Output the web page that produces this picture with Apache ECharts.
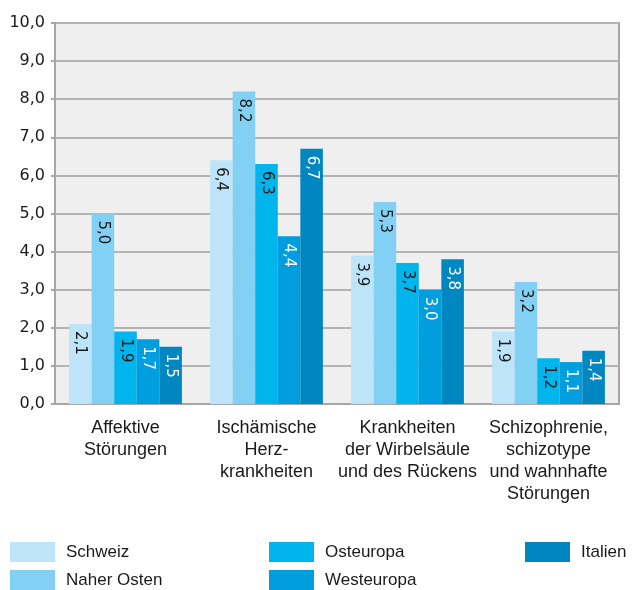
<!DOCTYPE html>
<html>
<head>
<meta charset="utf-8">
<script src="https://cdn.jsdelivr.net/npm/echarts@6/dist/echarts.min.js"></script>
<style>
  html, body { margin: 0; padding: 0; background: #ffffff; }
  #chart { width: 633px; height: 590px; }
</style>
</head>
<body>
<div id="chart"></div>
<script>
// Daten
var categories = [
  "Affektive\nStörungen",
  "Ischämische\nHerz-\nkrankheiten",
  "Krankheiten\nder Wirbelsäule\nund des Rückens",
  "Schizophrenie,\nschizotype\nund wahnhafte\nStörungen"
];
var seriesNames = ["Schweiz", "Naher Osten", "Osteuropa", "Westeuropa", "Italien"];
var schweiz = [2.1, 6.4, 3.9, 1.9];
var naherOsten = [5.0, 8.2, 5.3, 3.2];
var osteuropa = [1.9, 6.3, 3.7, 1.2];
var westeuropa = [1.7, 4.4, 3.0, 1.1];
var italien = [1.5, 6.7, 3.8, 1.4];
var yMin = 0, yMax = 10, yStep = 1;

var colors = ["#bde4f8", "#82d0f4", "#00b4ec", "#009edf", "#0086c0"];
var labelColors = ["#1a1a1a", "#1a1a1a", "#1a1a1a", "#ffffff", "#ffffff"];
var values = [schweiz, naherOsten, osteuropa, westeuropa, italien];

var textFont = "Liberation Sans";
var numFont = "DejaVu Sans";

function komma(v) {
  return Number(v).toFixed(1).replace(".", ",");
}

var series = [];
for (var i = 0; i < seriesNames.length; i++) {
  series.push({
    name: seriesNames[i],
    type: "bar",
    data: values[i],
    barGap: "0%",
    barCategoryGap: "20%",
    itemStyle: { color: colors[i] },
    label: {
      show: true,
      position: "insideTop",
      rotate: -90,
      align: "left",
      verticalAlign: "middle",
      distance: 7,
      color: labelColors[i],
      fontFamily: numFont,
      fontSize: 15,
      formatter: function (p) { return komma(p.value); }
    },
    emphasis: { disabled: true }
  });
}

function legendBlock(left, names) {
  return {
    orient: "vertical",
    left: left,
    top: 542,
    height: 48,
    padding: 0,
    itemWidth: 45,
    itemHeight: 20,
    itemGap: 8,
    icon: "rect",
    selectedMode: false,
    data: names,
    textStyle: {
      fontFamily: textFont,
      fontSize: 17,
      color: "#1a1a1a",
      padding: [0, 0, 0, 6]
    }
  };
}

var chart = echarts.init(document.getElementById("chart"), null, { renderer: "canvas" });
var option = {
  animation: false,
  color: colors,
  grid: {
    left: 55,
    right: 14,
    top: 23,
    bottom: 186,
    show: true,
    backgroundColor: "#efefef",
    borderColor: "#a6a6a6",
    borderWidth: 2
  },
  legend: [
    legendBlock(10, ["Schweiz", "Naher Osten"]),
    legendBlock(269, ["Osteuropa", "Westeuropa"]),
    legendBlock(525, ["Italien"])
  ],
  xAxis: {
    type: "category",
    data: categories,
    axisLine: { show: true, lineStyle: { color: "#a6a6a6", width: 2 } },
    axisTick: { show: false },
    axisLabel: {
      interval: 0,
      margin: 13,
      fontFamily: textFont,
      fontSize: 18,
      lineHeight: 22,
      color: "#1a1a1a",
      align: "center"
    }
  },
  yAxis: {
    type: "value",
    min: yMin,
    max: yMax,
    interval: yStep,
    axisLine: { show: true, lineStyle: { color: "#a6a6a6", width: 2 } },
    axisTick: { show: true, inside: false, length: 4, lineStyle: { color: "#a6a6a6", width: 2 } },
    splitLine: { show: true, lineStyle: { color: "#b3b3b3", width: 2 } },
    axisLabel: {
      margin: 10,
      fontFamily: numFont,
      fontSize: 16,
      color: "#1a1a1a",
      formatter: function (v) { return komma(v); }
    }
  },
  series: series
};
chart.setOption(option);
</script>
</body>
</html>
